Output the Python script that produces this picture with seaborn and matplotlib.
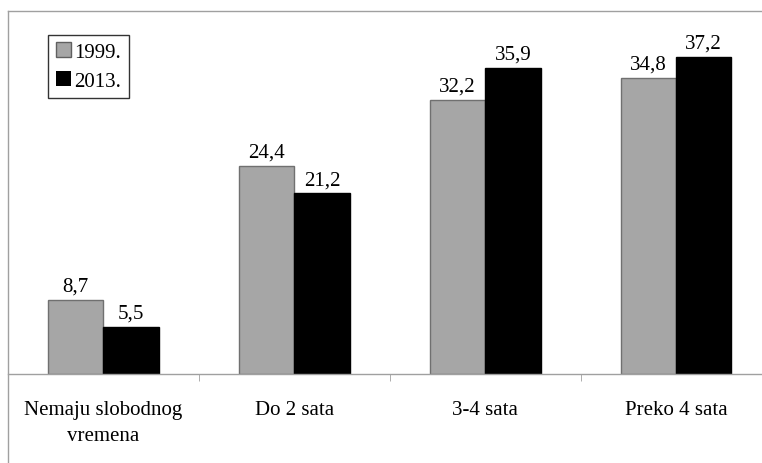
import pandas as pd
import seaborn as sns
import matplotlib.pyplot as plt
from matplotlib.lines import Line2D

categories = ['Nemaju slobodnog\nvremena', 'Do 2 sata', '3-4 sata', 'Preko 4 sata']
years = ['1999.', '2013.']
values_1999 = [8.7, 24.4, 32.2, 34.8]
values_2013 = [5.5, 21.2, 35.9, 37.2]

df = pd.DataFrame({
    'kategorija': categories * 2,
    'godina': [years[0]] * 4 + [years[1]] * 4,
    'postotak': values_1999 + values_2013,
})

plt.rcParams['font.family'] = ['Liberation Serif', 'DejaVu Serif']

fig = plt.figure(figsize=(7.62, 4.64), dpi=100)
ax = fig.add_axes([0.0105, 0.192, 1.002, 0.782])

sns.barplot(data=df, x='kategorija', y='postotak', hue='godina',
            palette=['#a6a6a6', '#000000'], width=0.58, ax=ax,
            saturation=1, linewidth=1)

# bar outlines
for bars, ec in zip(ax.containers, ['#707070', '#000000']):
    for b in bars:
        b.set_edgecolor(ec)

for bars in ax.containers:
    ax.bar_label(bars, labels=[f'{v:.1f}'.replace('.', ',') for v in bars.datavalues],
                 padding=3, fontsize=15)

ax.set_xlim(-0.5, 3.5)
ax.set_ylim(0, 42.6)
ax.set_xlabel('')
ax.set_ylabel('')
ax.set_yticks([])
for s in ['top', 'right', 'left']:
    ax.spines[s].set_visible(False)
ax.spines['bottom'].set_color('#a0a0a0')
ax.spines['bottom'].set_linewidth(1)

ax.tick_params(axis='x', which='major', length=0, labelsize=15, pad=19)
for t in ax.get_xticklabels():
    t.set_linespacing(1.5)
ax.set_xticks([0.5, 1.5, 2.5], minor=True)
ax.tick_params(axis='x', which='minor', length=5, color='#a0a0a0', direction='out')

leg = ax.legend(loc='upper left', bbox_to_anchor=(0.053, 0.935), fontsize=15,
                frameon=True, fancybox=False, handlelength=0.75, handleheight=0.75,
                handletextpad=0.15, borderpad=0.35, labelspacing=0.45,
                borderaxespad=0)
leg.get_frame().set_edgecolor('black')
leg.get_frame().set_linewidth(1)
leg.legend_handles[0].set_edgecolor('#606060')

# outer frame (top and left sides visible)
fig.add_artist(Line2D([0.0105, 0.0105], [0, 0.974], color='#a0a0a0', lw=1,
                      transform=fig.transFigure))
fig.add_artist(Line2D([0.0105, 1.0], [0.974, 0.974], color='#a0a0a0', lw=1,
                      transform=fig.transFigure))

fig.savefig('out.png', dpi=100)
